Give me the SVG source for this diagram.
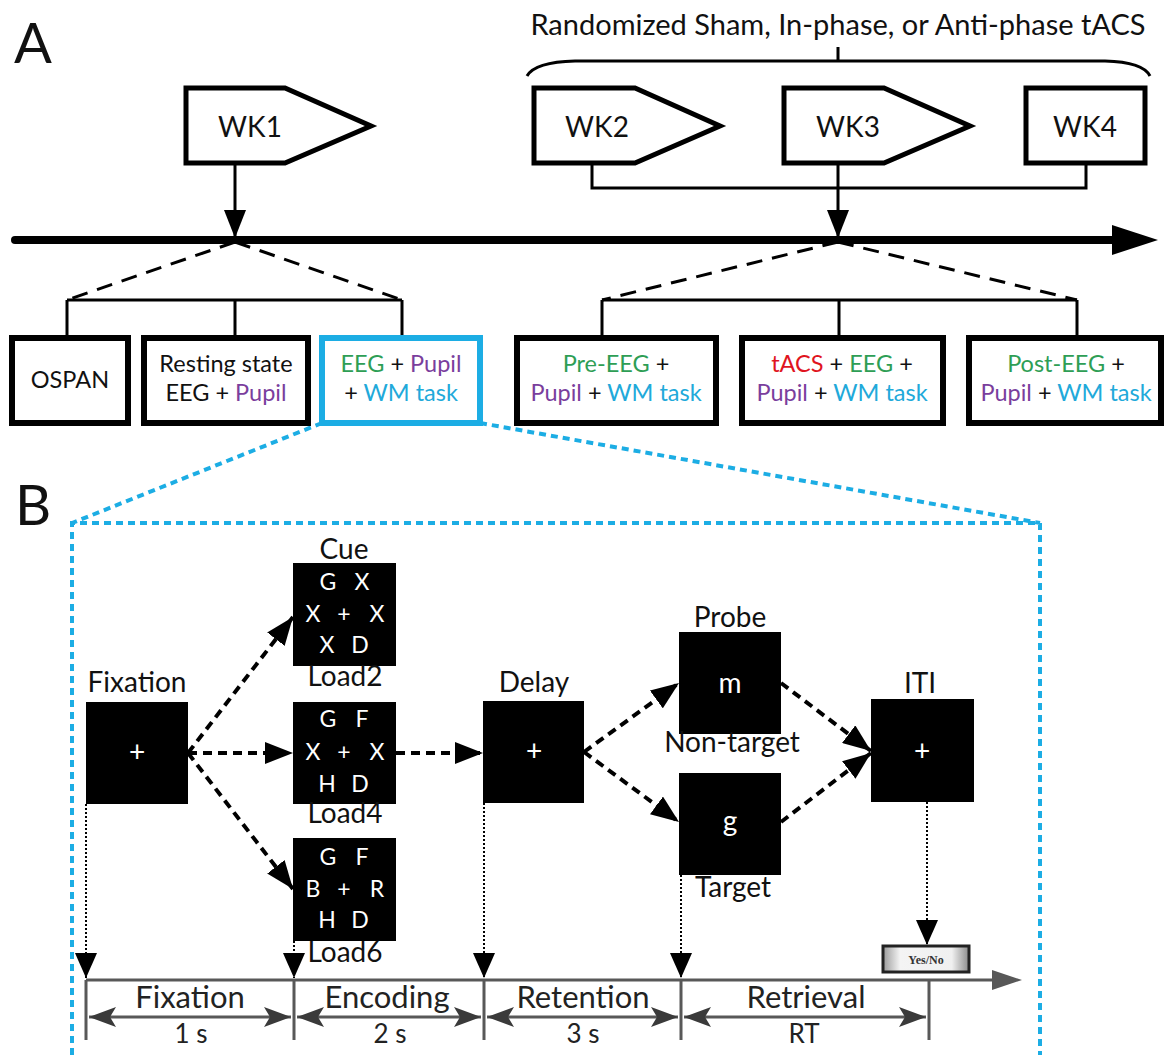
<svg xmlns="http://www.w3.org/2000/svg" width="1165" height="1055" viewBox="0 0 1165 1055">
<defs>
<marker id="ah" markerUnits="userSpaceOnUse" markerWidth="30" markerHeight="22" refX="28" refY="11" orient="auto"><path d="M0,0 L28,11 L0,22 Z" fill="#000"/></marker>
<marker id="ahs" markerUnits="userSpaceOnUse" markerWidth="26" markerHeight="22" refX="25" refY="11" orient="auto"><path d="M0,0 L25,11 L0,22 Z" fill="#000"/></marker>
<marker id="ah2" markerUnits="userSpaceOnUse" markerWidth="28" markerHeight="22" refX="27" refY="10" orient="auto-start-reverse"><path d="M0,0 L27,10 L0,20 L6,10 Z" fill="#3a3a3a"/></marker>
<linearGradient id="btn" x1="0" y1="0" x2="1" y2="0"><stop offset="0" stop-color="#9a9a9a"/><stop offset="0.2" stop-color="#f4f4f4"/><stop offset="0.8" stop-color="#f0f0f0"/><stop offset="1" stop-color="#8a8a8a"/></linearGradient>
<style>
text{font-family:Lato,"Open Sans","Liberation Sans",sans-serif;fill:#111}
.c{text-anchor:middle}
.box{fill:#fff;stroke:#000;stroke-width:6}
.wk{fill:#fff;stroke:#000;stroke-width:5;stroke-linejoin:miter}
.ln{fill:none;stroke:#000;stroke-width:3}
.dl{fill:none;stroke:#000;stroke-width:3;stroke-dasharray:16 10}
.blk{fill:#000}
.w{fill:#fff;text-anchor:middle;font-size:23px}
.big{font-size:28px}
.lab{font-size:28px;text-anchor:middle}
.da{fill:none;stroke:#000;stroke-width:4;stroke-dasharray:9 6}
.dt{fill:none;stroke:#000;stroke-width:2;stroke-dasharray:2 2}
.bl{fill:none;stroke:#1CADE4;stroke-width:4;stroke-dasharray:7 5}
.tl{fill:none;stroke:#585858;stroke-width:3}
.g{fill:#2E9E55}.p{fill:#7A3E9D}.cy{fill:#21A9DA}.r{fill:#E0141E}
.bt{font-size:23.5px;text-anchor:middle}
.ph{font-size:31px;text-anchor:middle;fill:#222}
.du{font-size:26px;text-anchor:middle;fill:#222}
</style>
</defs>

<text x="14" y="63" font-size="56">A</text>
<text x="15" y="525" font-size="56">B</text>
<text x="838" y="35" class="c" font-size="29">Randomized Sham, In-phase, or Anti-phase tACS</text>
<path class="ln" d="M527,76 Q535,62 575,61 L1105,61 Q1143,62 1150,76 M838,47 V61"/>

<g id="connectors">
<path class="ln" d="M592,163 V188 H1086 V163"/>
<path class="ln" d="M235,163 V238" marker-end="url(#ah)"/>
<path class="ln" d="M838,163 V238" marker-end="url(#ah)"/>
<path d="M15,240 H1115" stroke="#000" stroke-width="8" stroke-linecap="round"/>
<polygon points="1112,225 1158,240 1112,255" fill="#000"/>
<path class="dl" d="M235,242 L67,300 M235,242 L402,300"/>
<path class="ln" d="M67,300 H402 M67,300 V338 M235,300 V338 M402,300 V338"/>
<path class="dl" d="M838,242 L602,300 M838,242 L1077,300"/>
<path class="ln" d="M602,300 H1077 M602,300 V338 M839,300 V338 M1077,300 V338"/>
<path class="bl" d="M322,423 L72,523 M480,423 L1040,523 M72,1055 V523 H1040 V1055"/>
<path class="da" d="M188,753 L293,617" marker-end="url(#ah)"/>
<path class="da" d="M188,753 L293,753" marker-end="url(#ah)"/>
<path class="da" d="M188,753 L293,889" marker-end="url(#ah)"/>
<path class="da" d="M396,753 L483,753" marker-end="url(#ah)"/>
<path class="da" d="M584,752 L679,683" marker-end="url(#ah)"/>
<path class="da" d="M584,752 L679,822" marker-end="url(#ah)"/>
<path class="da" d="M781,683 L871,751" marker-end="url(#ah)"/>
<path class="da" d="M781,822 L871,753" marker-end="url(#ah)"/>
<path class="dt" d="M86,804 V978" marker-end="url(#ahs)"/>
<path class="dt" d="M294,941 V978" marker-end="url(#ahs)"/>
<path class="dt" d="M484,803 V978" marker-end="url(#ahs)"/>
<path class="dt" d="M681,875 V978" marker-end="url(#ahs)"/>
<path class="dt" d="M927,802 V945" marker-end="url(#ahs)"/>
</g>

<g id="wk1"><polygon class="wk" points="186,88 285,88 371,126 285,163 186,163"/><text x="250" y="137" class="c" font-size="28">WK1</text></g>
<g id="wk2"><polygon class="wk" points="534,88 635,88 720,126 635,163 534,163"/><text x="597" y="137" class="c" font-size="28">WK2</text></g>
<g id="wk3"><polygon class="wk" points="784,88 884,88 970,126 884,163 784,163"/><text x="848" y="137" class="c" font-size="28">WK3</text></g>
<g id="wk4"><rect class="wk" x="1026" y="88" width="119" height="75"/><text x="1085" y="137" class="c" font-size="28">WK4</text></g>

<g id="ospan"><rect class="box" x="12" y="338" width="116" height="85"/><text x="70" y="388" class="bt">OSPAN</text></g>
<g id="resting"><rect class="box" x="144" y="338" width="164" height="85"/><text x="226" y="372" class="bt">Resting state</text><text x="226" y="401" class="bt">EEG + <tspan class="p">Pupil</tspan></text></g>
<g id="wk1task"><rect class="box" x="322" y="338" width="158" height="85" style="stroke:#1CADE4"/><text x="401" y="372" class="bt"><tspan class="g">EEG</tspan> + <tspan class="p">Pupil</tspan></text><text x="401" y="401" class="bt">+ <tspan class="cy">WM task</tspan></text></g>
<g id="pre"><rect class="box" x="517" y="338" width="199" height="85"/><text x="616" y="372" class="bt"><tspan class="g">Pre-EEG</tspan> +</text><text x="616" y="401" class="bt"><tspan class="p">Pupil</tspan> + <tspan class="cy">WM task</tspan></text></g>
<g id="during"><rect class="box" x="742" y="338" width="201" height="85"/><text x="842" y="372" class="bt"><tspan class="r">tACS</tspan> + <tspan class="g">EEG</tspan> +</text><text x="842" y="401" class="bt"><tspan class="p">Pupil</tspan> + <tspan class="cy">WM task</tspan></text></g>
<g id="post"><rect class="box" x="969" y="338" width="192" height="85"/><text x="1066" y="372" class="bt"><tspan class="g">Post-EEG</tspan> +</text><text x="1066" y="401" class="bt"><tspan class="p">Pupil</tspan> + <tspan class="cy">WM task</tspan></text></g>

<g id="fixation"><rect class="blk" x="86" y="702" width="102" height="102"/><text class="w big" x="137" y="762">+</text><text class="lab" x="137" y="692">Fixation</text></g>
<g id="cue"><rect class="blk" x="293" y="563" width="103" height="103"/><text class="lab" x="344" y="559">Cue</text>
<text class="w" x="328" y="590">G</text><text class="w" x="362" y="590">X</text>
<text class="w" x="313" y="622">X</text><text class="w" x="344" y="622">+</text><text class="w" x="377" y="622">X</text>
<text class="w" x="327" y="653">X</text><text class="w" x="360" y="653">D</text>
<text class="lab" x="345" y="686">Load2</text></g>
<g id="load4"><rect class="blk" x="293" y="702" width="103" height="102"/>
<text class="w" x="328" y="727">G</text><text class="w" x="362" y="727">F</text>
<text class="w" x="313" y="760">X</text><text class="w" x="344" y="760">+</text><text class="w" x="377" y="760">X</text>
<text class="w" x="327" y="792">H</text><text class="w" x="360" y="792">D</text>
<text class="lab" x="345" y="823">Load4</text></g>
<g id="load6"><rect class="blk" x="293" y="838" width="103" height="103"/>
<text class="w" x="328" y="865">G</text><text class="w" x="362" y="865">F</text>
<text class="w" x="313" y="897">B</text><text class="w" x="344" y="897">+</text><text class="w" x="377" y="897">R</text>
<text class="w" x="327" y="928">H</text><text class="w" x="360" y="928">D</text>
<text class="lab" x="345" y="962">Load6</text></g>
<g id="delay"><rect class="blk" x="483" y="701" width="101" height="102"/><text class="w big" x="534" y="761">+</text><text class="lab" x="534" y="692">Delay</text></g>
<g id="probe"><rect class="blk" x="679" y="632" width="102" height="102"/><text class="w big" x="730" y="693">m</text><text class="lab" x="730" y="627">Probe</text><text class="lab" x="732" y="752">Non-target</text></g>
<g id="target"><rect class="blk" x="679" y="773" width="102" height="102"/><text class="w big" x="730" y="831">g</text><text class="lab" x="733" y="897">Target</text></g>
<g id="iti"><rect class="blk" x="871" y="699" width="103" height="103"/><text class="w big" x="922" y="761">+</text><text class="lab" x="920" y="693">ITI</text></g>
<g id="yesno"><rect x="883" y="946" width="86" height="26" fill="url(#btn)" stroke="#222" stroke-width="3"/><text x="926" y="964" text-anchor="middle" style="font-family:'Liberation Serif',serif;font-weight:bold;font-size:12px;fill:#333">Yes/No</text></g>

<g id="timeline">
<path class="tl" d="M86,980 H996"/>
<polygon points="992,970 1022,980 992,990" fill="#585858"/>
<path class="tl" d="M86,980 V1040 M294,980 V1040 M484,980 V1040 M681,980 V1040 M929,980 V1040"/>
<path class="tl" d="M89,1017 H291" marker-start="url(#ah2)" marker-end="url(#ah2)"/>
<path class="tl" d="M297,1017 H481" marker-start="url(#ah2)" marker-end="url(#ah2)"/>
<path class="tl" d="M487,1017 H678" marker-start="url(#ah2)" marker-end="url(#ah2)"/>
<path class="tl" d="M684,1017 H926" marker-start="url(#ah2)" marker-end="url(#ah2)"/>
<text class="ph" x="190" y="1008">Fixation</text><text class="du" x="191" y="1043">1 s</text>
<text class="ph" x="387" y="1008">Encoding</text><text class="du" x="390" y="1043">2 s</text>
<text class="ph" x="583" y="1008">Retention</text><text class="du" x="583" y="1043">3 s</text>
<text class="ph" x="806" y="1008">Retrieval</text><text class="du" x="804" y="1043">RT</text>
</g>
</svg>
